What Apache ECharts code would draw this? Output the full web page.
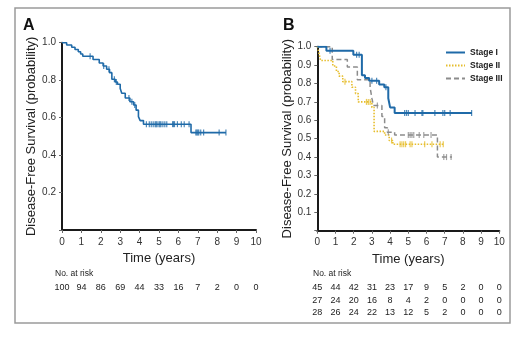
<!DOCTYPE html>
<html>
<head>
<meta charset="utf-8">
<script src="https://cdn.jsdelivr.net/npm/echarts@6/dist/echarts.min.js"></script>
<style>
  html, body { margin: 0; padding: 0; background: #fff; }
  #chart { width: 520px; height: 348px; }
</style>
</head>
<body>
<div id="chart"></div>
<script>
// ---- Kaplan-Meier data: disease-free survival ----
const yearTicks = [0, 1, 2, 3, 4, 5, 6, 7, 8, 9, 10];

// Panel A: all patients (event times in years, survival after each step)
const allTimes = [0, 0.24, 0.5, 0.67, 0.84, 0.96, 1.07, 1.6, 1.92, 2.12, 2.3, 2.45, 2.57, 2.74, 2.86, 3.0, 3.08, 3.26, 3.5, 3.69, 3.82, 3.94, 4.03, 4.2, 6.65];
const allSurv  = [1.0, 0.988, 0.976, 0.964, 0.952, 0.94, 0.928, 0.91, 0.892, 0.876, 0.858, 0.84, 0.805, 0.79, 0.778, 0.756, 0.73, 0.705, 0.685, 0.667, 0.64, 0.605, 0.584, 0.565, 0.52];
const allLastFollowUp = 8.45;
const allCensored = [1.45, 2.15, 2.42, 2.7, 2.8, 3.45, 3.6, 3.75, 4.35, 4.5, 4.6, 4.7, 4.8, 4.85, 4.9, 5.0, 5.05, 5.1, 5.2, 5.3, 5.4, 5.7, 5.75, 5.8, 5.95, 6.15, 6.3, 6.55, 6.9, 6.95, 7.0, 7.05, 7.15, 7.3, 8.1, 8.45];
const allAtRisk = [100, 94, 86, 69, 44, 33, 16, 7, 2, 0, 0];

// Panel B: by stage
const stageNames = ['Stage I', 'Stage II', 'Stage III'];

const stage1Times = [0, 0.5, 1.98, 2.45, 2.62, 2.85, 3.4, 3.68, 3.9, 4.0, 4.25];
const stage1Surv  = [1.0, 0.978, 0.956, 0.845, 0.83, 0.815, 0.795, 0.78, 0.72, 0.67, 0.64];
const stage1LastFollowUp = 8.5;
const stage1Censored = [0.7, 2.16, 2.3, 3.0, 3.26, 3.77, 4.8, 4.9, 5.0, 5.37, 5.75, 5.8, 6.46, 6.9, 7.0, 7.3, 8.48];
const stage1AtRisk = [45, 44, 42, 31, 23, 17, 9, 5, 2, 0, 0];

const stage2Times = [0, 0.08, 0.18, 0.85, 1.05, 1.2, 1.4, 1.9, 2.1, 2.25, 3.0, 3.12, 3.7, 3.95, 4.15];
const stage2Surv  = [1.0, 0.97, 0.925, 0.895, 0.865, 0.84, 0.81, 0.78, 0.745, 0.70, 0.67, 0.54, 0.52, 0.49, 0.47];
const stage2LastFollowUp = 6.95;
const stage2Censored = [1.52, 2.7, 2.8, 2.9, 4.08, 4.55, 4.65, 4.75, 4.85, 5.1, 5.2, 5.9, 6.3, 6.75, 6.92];
const stage2AtRisk = [27, 24, 20, 16, 8, 4, 2, 0, 0, 0, 0];

const stage3Times = [0, 0.82, 1.65, 2.2, 2.9, 3.0, 3.08, 3.55, 3.7, 3.85, 4.25, 6.6];
const stage3Surv  = [1.0, 0.93, 0.89, 0.82, 0.78, 0.72, 0.68, 0.62, 0.56, 0.535, 0.52, 0.40];
const stage3LastFollowUp = 7.4;
const stage3Censored = [3.3, 3.9, 5.0, 5.1, 5.2, 5.3, 5.6, 5.85, 6.25, 6.95, 7.1, 7.35];
const stage3AtRisk = [28, 26, 24, 22, 13, 12, 5, 2, 0, 0, 0];

// ---- helpers ----
const FONT = '"Liberation Sans", Arial, Helvetica, sans-serif';

function survAt(times, surv, t) {
  let s = surv[0];
  for (let i = 0; i < times.length; i++) { if (times[i] <= t) s = surv[i]; }
  return s;
}
function stepData(times, surv, last) {
  const d = times.map((t, i) => [t, surv[i]]);
  d.push([last, surv[surv.length - 1]]);
  return d;
}
function censorData(times, surv, cens) {
  return cens.map(t => [t, survAt(times, surv, t)]);
}

const BLUE = '#1f6aa8', GOLD = '#e6bd2c', GREY = '#8c8c8c';

function curve(name, grid, times, surv, last, color, width, type) {
  return {
    name: name, type: 'line', step: 'end', xAxisIndex: grid, yAxisIndex: grid,
    symbol: 'none', data: stepData(times, surv, last),
    lineStyle: { color: color, width: width, type: type }, itemStyle: { color: color },
    z: 3
  };
}
function ticks(grid, times, surv, cens, color) {
  return {
    type: 'scatter', xAxisIndex: grid, yAxisIndex: grid,
    symbol: 'rect', symbolSize: [1.2, 6], data: censorData(times, surv, cens),
    itemStyle: { color: color }, z: 4, silent: true
  };
}

function xAx(grid) {
  return {
    gridIndex: grid, type: 'value', min: 0, max: 10, interval: 1,
    axisLine: { lineStyle: { color: '#1a1a1a', width: 2 } },
    axisTick: { length: 3, lineStyle: { color: '#666' } },
    axisLabel: { fontSize: 10, color: '#333', margin: 7, fontFamily: FONT },
    splitLine: { show: false },
    name: 'Time (years)', nameLocation: 'middle', nameGap: 22,
    nameTextStyle: { fontSize: 13, color: '#222', fontFamily: FONT }
  };
}
function yAx(grid, step, gap) {
  return {
    gridIndex: grid, type: 'value', min: 0, max: 1, interval: step,
    axisLine: { show: true, lineStyle: { color: '#1a1a1a', width: 2 } },
    axisTick: { show: true, length: 3, lineStyle: { color: '#666' } },
    axisLabel: { fontSize: 10, color: '#333', margin: 6, fontFamily: FONT,
      formatter: v => (v === 0 ? '' : v.toFixed(1)) },
    splitLine: { show: false },
    name: 'Disease-Free Survival (probability)', nameLocation: 'middle', nameGap: gap,
    nameTextStyle: { fontSize: 13, color: '#222', fontFamily: FONT }
  };
}

const chart = echarts.init(document.getElementById('chart'), null, { renderer: 'canvas' });

const option = {
  animation: false,
  backgroundColor: '#fff',
  grid: [
    { left: 62, top: 42.7, width: 194, height: 187.3 },
    { left: 317.3, top: 46.7, width: 182, height: 184 }
  ],
  xAxis: [xAx(0), xAx(1)],
  yAxis: [yAx(0, 0.2, 24), yAx(1, 0.1, 21)],
  legend: {
    data: stageNames, orient: 'vertical', left: 445, top: 48, padding: 0,
    itemWidth: 19, itemHeight: 8, itemGap: 4,
    itemStyle: { opacity: 0 },
    textStyle: { fontSize: 8.5, color: '#222', fontFamily: FONT, fontWeight: 'bold' }
  },
  series: [
    curve('All', 0, allTimes, allSurv, allLastFollowUp, BLUE, 1.6, 'solid'),
    ticks(0, allTimes, allSurv, allCensored, BLUE),
    curve('Stage III', 1, stage3Times, stage3Surv, stage3LastFollowUp, GREY, 1.5, [5, 3]),
    ticks(1, stage3Times, stage3Surv, stage3Censored, GREY),
    curve('Stage II', 1, stage2Times, stage2Surv, stage2LastFollowUp, GOLD, 1.6, [1.5, 1.5]),
    ticks(1, stage2Times, stage2Surv, stage2Censored, GOLD),
    curve('Stage I', 1, stage1Times, stage1Surv, stage1LastFollowUp, BLUE, 2, 'solid'),
    ticks(1, stage1Times, stage1Surv, stage1Censored, BLUE)
  ]
};
chart.setOption(option);

// Frame, panel letters and number-at-risk tables placed on the x scales
const graphics = [
  { type: 'rect', shape: { x: 15, y: 8, width: 495, height: 315 },
    style: { fill: null, stroke: '#9a9a9a', lineWidth: 1.5 }, silent: true },
  { type: 'text', left: 23, top: 18, style: { text: 'A', font: 'bold 16px ' + FONT, fill: '#111' } },
  { type: 'text', left: 283, top: 18, style: { text: 'B', font: 'bold 16px ' + FONT, fill: '#111' } },
  { type: 'text', x: 55, y: 274, style: { text: 'No. at risk', font: '8.5px ' + FONT, fill: '#222', verticalAlign: 'middle' } },
  { type: 'text', x: 313, y: 274, style: { text: 'No. at risk', font: '8.5px ' + FONT, fill: '#222', verticalAlign: 'middle' } }
];
function riskRow(axisIndex, counts, y) {
  yearTicks.forEach((t, i) => {
    const x = chart.convertToPixel({ xAxisIndex: axisIndex }, t);
    graphics.push({ type: 'text', x: x, y: y,
      style: { text: String(counts[i]), font: '9px ' + FONT, fill: '#222', align: 'center', verticalAlign: 'middle' } });
  });
}
riskRow(0, allAtRisk, 288);
riskRow(1, stage1AtRisk, 288);
riskRow(1, stage2AtRisk, 300.5);
riskRow(1, stage3AtRisk, 312.5);
chart.setOption({ graphic: graphics });
</script>
</body>
</html>
